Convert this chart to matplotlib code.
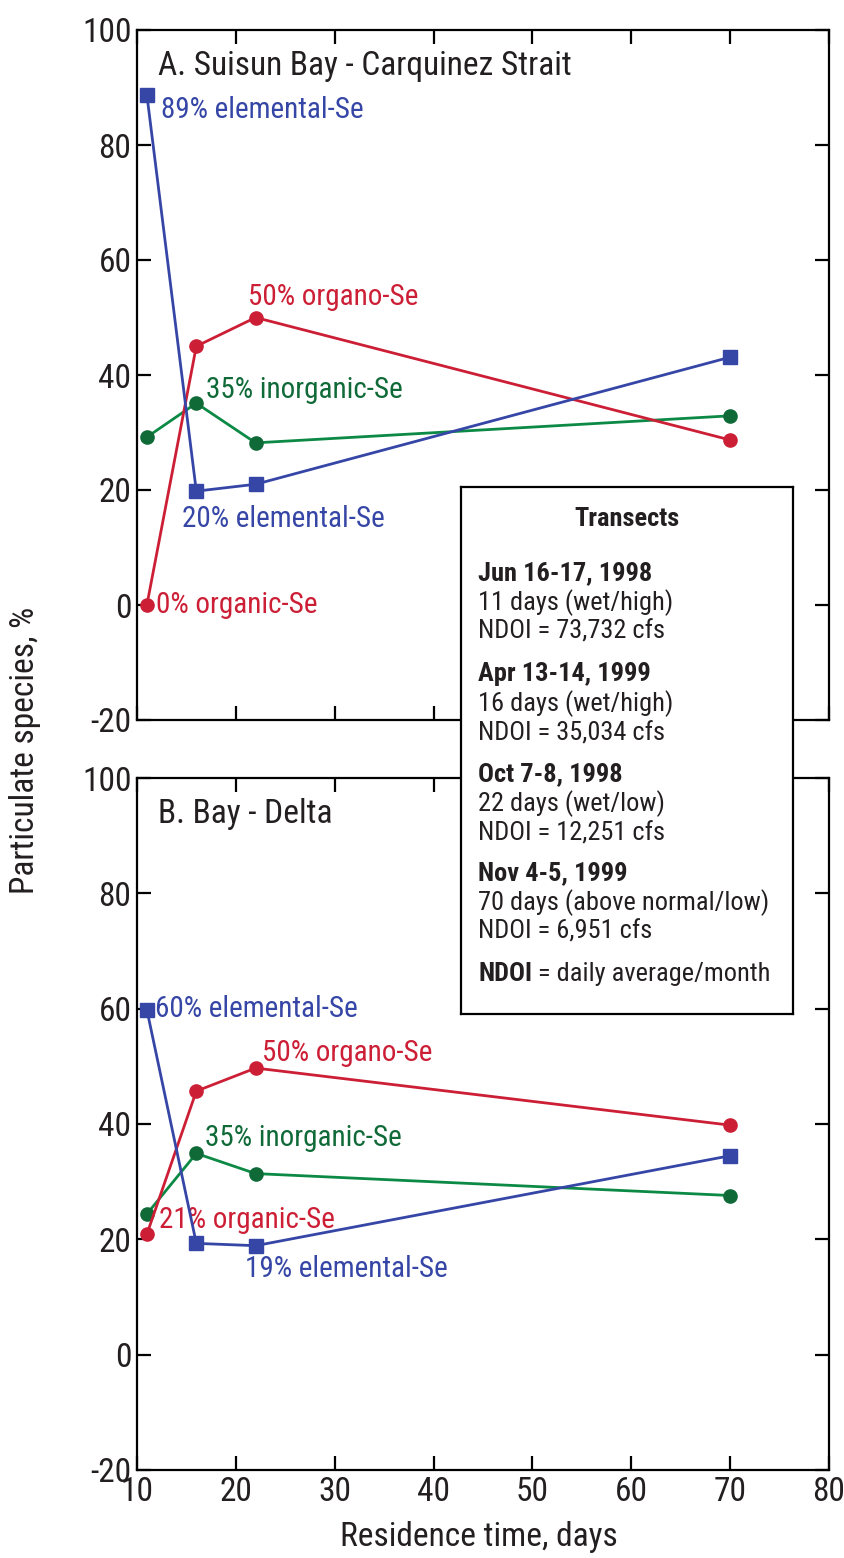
import matplotlib
matplotlib.use("Agg")
import matplotlib.pyplot as plt

plt.rcParams['font.family'] = ['Roboto Condensed', 'DejaVu Sans']
plt.rcParams['axes.unicode_minus'] = False

days = [11, 16, 22, 70]

# A. Suisun Bay - Carquinez Strait
a_elemental = [88.7, 19.8, 21.0, 43.1]
a_organic = [0.0, 45.0, 50.0, 28.7]
a_inorganic = [29.2, 35.1, 28.2, 32.9]

# B. Bay - Delta
b_elemental = [59.8, 19.3, 18.9, 34.5]
b_organic = [20.9, 45.7, 49.7, 39.8]
b_inorganic = [24.4, 34.9, 31.4, 27.6]

xticks = [10, 20, 30, 40, 50, 60, 70, 80]
yticks = [-20, 0, 20, 40, 60, 80, 100]

blue = '#3646a6'
red = '#cc1f36'
green_line = '#0c8a45'
green_mk = '#106a38'
ink = '#231f20'

W, H = 844, 1558
fig = plt.figure(figsize=(W / 100, H / 100), dpi=100)

def px(x0, y0, x1, y1):
    return [x0 / W, 1 - y1 / H, (x1 - x0) / W, (y1 - y0) / H]

def setup(ax, show_x):
    ax.set_xlim(10, 80)
    ax.set_ylim(-20, 100)
    ax.set_xticks(xticks)
    ax.set_yticks(yticks)
    ax.tick_params(direction='in', length=10, width=1.6, top=True, right=True,
                   labelsize=24, pad=4, labelcolor=ink)
    if not show_x:
        ax.tick_params(labelbottom=False)
    for s in ax.spines.values():
        s.set_linewidth(1.6)

def draw(ax, el, org, inorg):
    ax.plot(days, inorg, '-', color=green_line, lw=2, zorder=2)
    ax.plot(days, inorg, 'o', color=green_mk, ms=9.5, zorder=3)
    ax.plot(days, org, '-o', color=red, lw=2, ms=9.5, zorder=3)
    ax.plot(days, el, '-s', color=blue, lw=2, ms=9.5, zorder=4)

ax1 = fig.add_axes(px(137, 30, 829, 720))
ax2 = fig.add_axes(px(137, 778, 829, 1470))
setup(ax1, False)
setup(ax2, True)
draw(ax1, a_elemental, a_organic, a_inorganic)
draw(ax2, b_elemental, b_organic, b_inorganic)

ax1.text(0.03, 0.948, 'A. Suisun Bay - Carquinez Strait', transform=ax1.transAxes,
         fontsize=24, color=ink, va='center')
ax2.text(0.03, 0.948, 'B. Bay - Delta', transform=ax2.transAxes,
         fontsize=24, color=ink, va='center')

fs = 21
ax1.text(12.4, 86.1, '89% elemental-Se', color=blue, fontsize=fs, va='center')
ax1.text(21.2, 53.6, '50% organo-Se', color=red, fontsize=fs, va='center')
ax1.text(17.0, 37.4, '35% inorganic-Se', color=green_mk, fontsize=fs, va='center')
ax1.text(14.6, 15.0, '20% elemental-Se', color=blue, fontsize=fs, va='center')
ax1.text(11.9, 0.0, '0% organic-Se', color=red, fontsize=fs, va='center')

ax2.text(11.8, 60.0, '60% elemental-Se', color=blue, fontsize=fs, va='center')
ax2.text(22.6, 52.3, '50% organo-Se', color=red, fontsize=fs, va='center')
ax2.text(16.9, 37.6, '35% inorganic-Se', color=green_mk, fontsize=fs, va='center')
ax2.text(12.2, 23.3, '21% organic-Se', color=red, fontsize=fs, va='center')
ax2.text(20.9, 14.8, '19% elemental-Se', color=blue, fontsize=fs, va='center')

fig.text(25 / W, 1 - 750 / H, 'Particulate species, %', rotation=90,
         fontsize=24, ha='center', va='center', color=ink)
fig.text(479 / W, 1 - 1537 / H, 'Residence time, days', fontsize=24,
         ha='center', va='center', color=ink)

# transects box, overlaps both panels
lg = fig.add_axes(px(461, 487, 793, 1014))
lg.set_xticks([])
lg.set_yticks([])
lg.set_facecolor('white')
for s in lg.spines.values():
    s.set_linewidth(1.6)
lg.set_zorder(10)

def ly(y):
    return 1 - (y - 487) / (1014 - 487)

lfs = 19
lg.text(0.5, ly(519), 'Transects', fontsize=lfs, weight='bold', ha='center', va='center', color=ink)
entries = [
    ('Jun 16-17, 1998', '11 days (wet/high)', 'NDOI = 73,732 cfs', 573),
    ('Apr 13-14, 1999', '16 days (wet/high)', 'NDOI = 35,034 cfs', 674),
    ('Oct 7-8, 1998', '22 days (wet/low)', 'NDOI = 12,251 cfs', 774),
    ('Nov 4-5, 1999', '70 days (above normal/low)', 'NDOI = 6,951 cfs', 873),
]
x0 = (478 - 461) / (793 - 461)
for head, l1, l2, y in entries:
    lg.text(x0, ly(y), head, fontsize=lfs, weight='bold', va='center', color=ink)
    lg.text(x0, ly(y + 29.5), l1, fontsize=lfs, va='center', color=ink)
    lg.text(x0, ly(y + 59), l2, fontsize=lfs, va='center', color=ink)
t = lg.text(x0, ly(974), 'NDOI', fontsize=lfs, weight='bold', va='center', color=ink)
lg.annotate(' = daily average/month', xy=(1, 0.5), xycoords=t, fontsize=lfs,
            va='center', color=ink)

fig.savefig('out.png', dpi=100)
